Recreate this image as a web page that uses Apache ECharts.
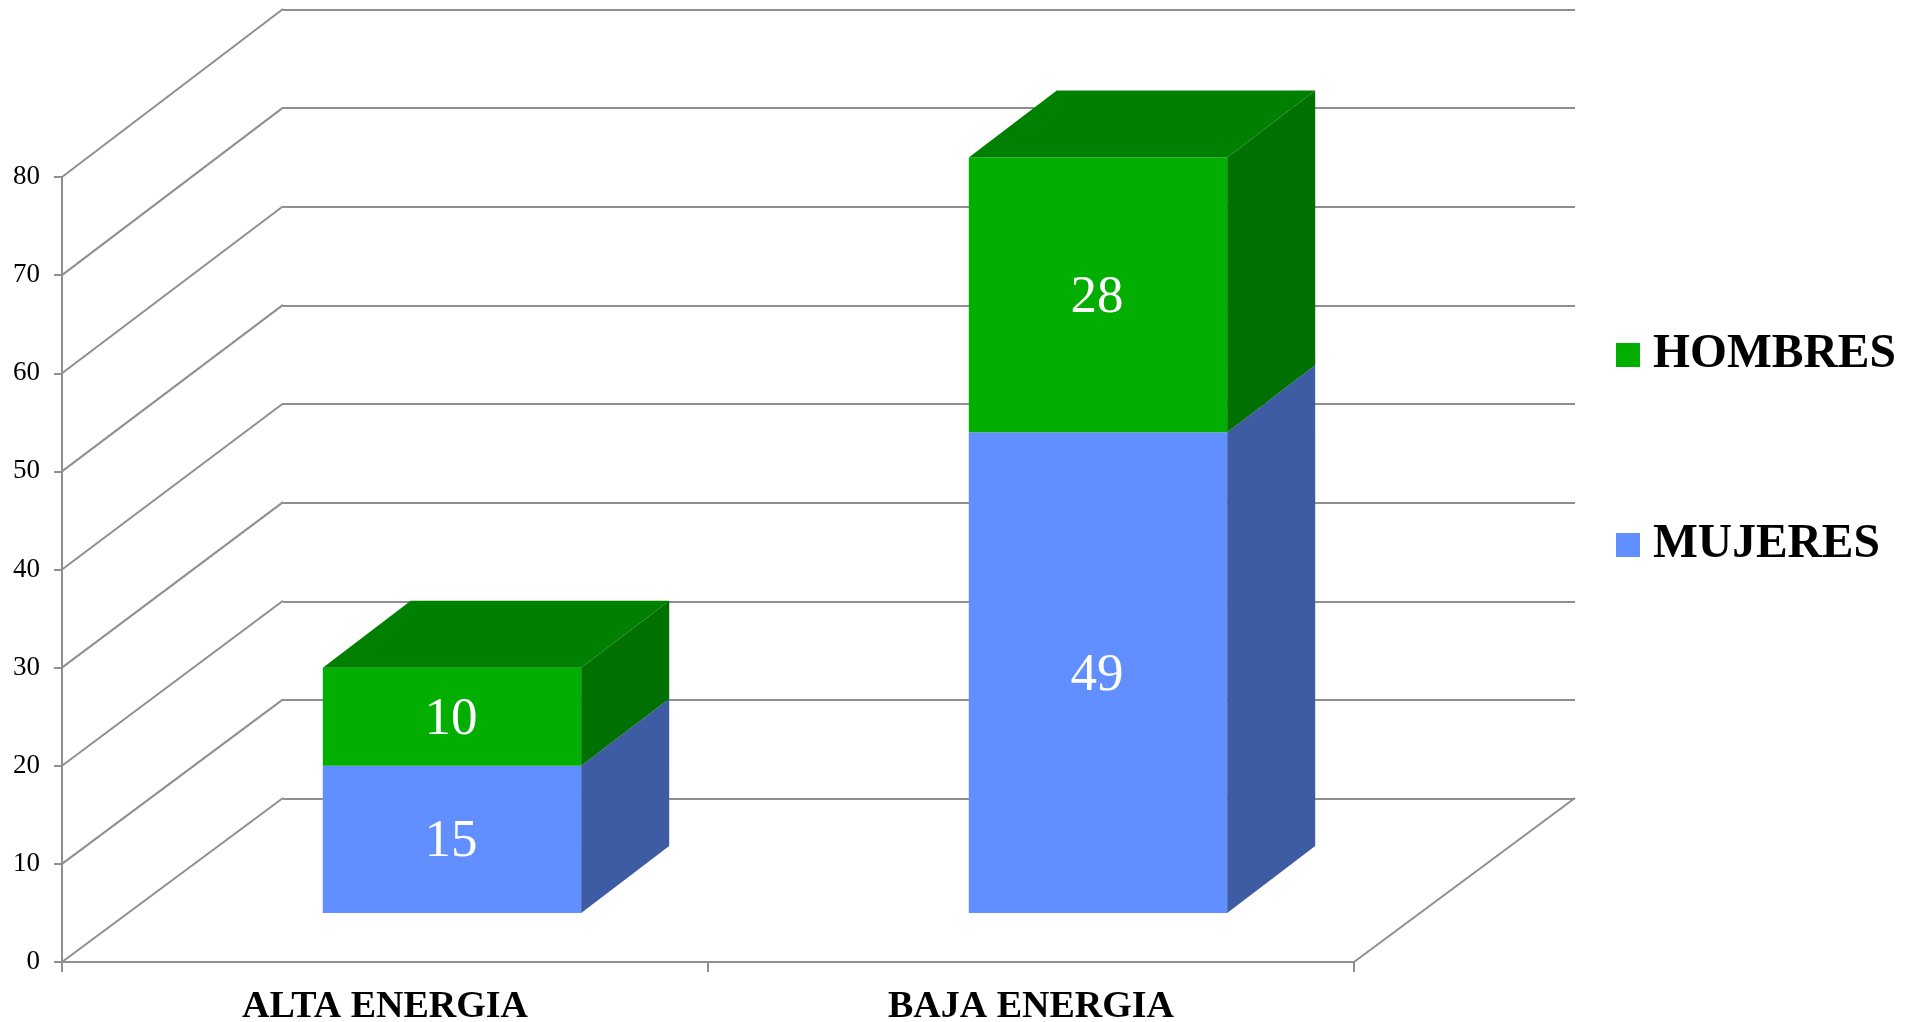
<!DOCTYPE html>
<html>
<head>
<meta charset="utf-8">
<style>html,body{margin:0;padding:0;background:#fff;overflow:hidden}#c{width:1918px;height:1022px}</style>
<script src="https://cdn.jsdelivr.net/npm/echarts@6/dist/echarts.min.js"></script>
</head>
<body>
<div id="c"></div>
<script>
const categories = ['ALTA ENERGIA', 'BAJA ENERGIA'];
const mujeres = [15, 49];
const hombres = [10, 28];
const yTicks = [0, 10, 20, 30, 40, 50, 60, 70, 80];

const serif = '"Liberation Serif","Times New Roman",serif';
const GRID_LINE = '#8f8f8f';
const WALL = {dx: 221, dyBottom: 164, dyTop: 168};
const BAR = {offX: 67, offY: 49, depthX: 88, depthY: 67, widthRatio: 0.4};
const COLORS = {
  hombres: {front: '#02AE00', side: '#007000', top: '#008000'},
  mujeres: {front: '#628FFF', side: '#3E5CA3', top: '#4A6FC4'}
};

const chart = echarts.init(document.getElementById('c'), null, {renderer: 'canvas'});

function wallItem(params, api) {
  const cs = params.coordSys;
  const v = api.value(0);
  const p = api.coord([0, v]);
  const x0 = cs.x;
  const t = (p[1] - cs.y) / cs.height;
  const dy = WALL.dyTop + (WALL.dyBottom - WALL.dyTop) * t;
  const style = {stroke: GRID_LINE, lineWidth: 2, fill: null};
  const children = [{
    type: 'line',
    shape: {x1: x0, y1: p[1], x2: x0 + WALL.dx, y2: p[1] - dy},
    style
  }];
  if (v === 0) {
    children.push({
      type: 'line',
      shape: {x1: x0 + cs.width, y1: p[1], x2: x0 + cs.width + WALL.dx, y2: p[1] - dy},
      style
    });
  }
  return {type: 'group', children};
}

function barRenderer(values, bases, colors) {
  return function (params, api) {
    const i = params.dataIndex;
    const base = bases ? bases[i] : 0;
    const top = base + values[i];
    const c = api.coord([i, top]);
    const b = api.coord([i, base]);
    const w = api.size([1, 0])[0] * BAR.widthRatio;
    const xL = c[0] + BAR.offX - w / 2;
    const xR = xL + w;
    const yT = c[1] - BAR.offY;
    const yB = b[1] - BAR.offY;
    const dx = BAR.depthX, dy = BAR.depthY;
    const children = [
      {type: 'rect', shape: {x: xL, y: yT, width: w, height: yB - yT}, style: {fill: colors.front}},
      {type: 'polygon', shape: {points: [[xR, yT], [xR + dx, yT - dy], [xR + dx, yB - dy], [xR, yB]]}, style: {fill: colors.side}}
    ];
    if (colors.showTop) {
      children.push({type: 'polygon', shape: {points: [[xL, yT], [xL + dx, yT - dy], [xR + dx, yT - dy], [xR, yT]]}, style: {fill: colors.top}});
    }
    children.push({
      type: 'text',
      style: {
        text: String(values[i]), x: xL + w / 2 - 1, y: (yT + yB) / 2 + 3,
        fill: '#fff', font: '53px ' + serif, textAlign: 'center', textVerticalAlign: 'middle'
      }
    });
    return {type: 'group', children};
  };
}

chart.setOption({
  animation: false,
  backgroundColor: '#fff',
  textStyle: {fontFamily: serif},
  grid: [
    {left: 62, top: 177, width: 1292, height: 785, outerBoundsMode: 'none'},
    {left: 283, top: 9.5, width: 1292, height: 789, outerBoundsMode: 'none'}
  ],
  xAxis: [
    {
      type: 'category', gridIndex: 0, data: categories,
      axisLine: {show: true, lineStyle: {color: GRID_LINE, width: 2}},
      axisTick: {show: true, length: 10, alignWithLabel: false, lineStyle: {color: GRID_LINE, width: 2}},
      axisLabel: {show: true, color: '#000', fontSize: 38, fontWeight: 'bold', fontFamily: serif, margin: 26}
    },
    {
      type: 'category', gridIndex: 1, data: categories,
      axisLine: {show: false}, axisTick: {show: false}, axisLabel: {show: false}
    }
  ],
  yAxis: [
    {
      type: 'value', gridIndex: 0, min: 0, max: 80, interval: 10,
      axisLine: {show: true, lineStyle: {color: GRID_LINE, width: 2}},
      axisTick: {show: true, length: 8, lineStyle: {color: GRID_LINE, width: 2}},
      axisLabel: {color: '#000', fontSize: 27, fontFamily: serif, margin: 22, padding: [5, 0, 0, 0]},
      splitLine: {show: false}
    },
    {
      type: 'value', gridIndex: 1, min: 0, max: 80, interval: 10,
      axisLine: {show: false}, axisTick: {show: false}, axisLabel: {show: false},
      splitLine: {show: true, lineStyle: {color: GRID_LINE, width: 2}}
    }
  ],
  legend: {
    show: true, orient: 'vertical', left: 1616, top: 331, itemWidth: 24, itemHeight: 24, itemGap: 142,
    icon: 'rect',
    data: ['HOMBRES', 'MUJERES'],
    textStyle: {color: '#000', fontSize: 47.5, fontWeight: 'bold', fontFamily: serif, padding: [9, 0, 0, 8]},
    selectedMode: false, padding: 0
  },
  series: [
    {
      name: 'paredes', type: 'custom', xAxisIndex: 0, yAxisIndex: 0, silent: true, z: 1,
      data: yTicks.map(v => [v]), renderItem: wallItem, encode: {y: 0}
    },
    {
      name: 'MUJERES', type: 'custom', xAxisIndex: 0, yAxisIndex: 0, z: 3, silent: true,
      itemStyle: {color: COLORS.mujeres.front},
      data: mujeres.map((v, i) => [i, v]),
      renderItem: barRenderer(mujeres, null, COLORS.mujeres)
    },
    {
      name: 'HOMBRES', type: 'custom', xAxisIndex: 0, yAxisIndex: 0, z: 4, silent: true,
      itemStyle: {color: COLORS.hombres.front},
      data: hombres.map((v, i) => [i, v + mujeres[i]]),
      renderItem: barRenderer(hombres, mujeres, Object.assign({showTop: true}, COLORS.hombres))
    }
  ]
});
</script>
</body>
</html>
